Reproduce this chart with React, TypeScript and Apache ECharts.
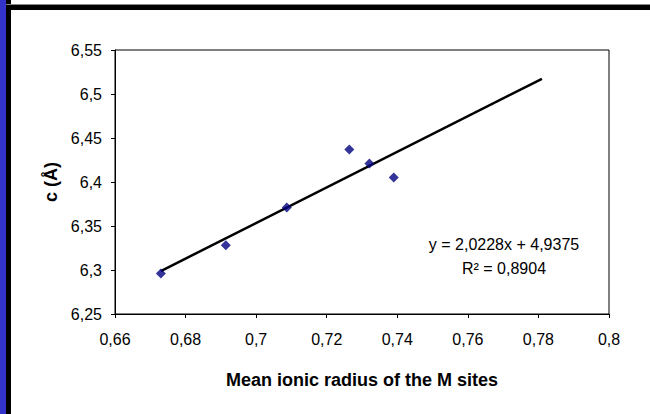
import React, { useEffect, useRef } from "react";
import * as echarts from "echarts";

const radius = [0.673, 0.6914, 0.7087, 0.7264, 0.7321, 0.739];
const cValues = [6.296, 6.328, 6.371, 6.437, 6.421, 6.405];
const trendX = [0.673, 0.781];
const trendY = [6.2988, 6.5173];
const equationText = "y = 2,0228x + 4,9375";
const r2Text = "R² = 0,8904";
const xTitle = "Mean ionic radius of the M sites";
const yTitle = "c (Å)";

const FONT = "'Liberation Sans', Arial, sans-serif";

function fmt(v: number): string {
  return String(parseFloat(v.toFixed(4))).replace(".", ",");
}

export default function App() {
  const ref = useRef<HTMLDivElement>(null);
  useEffect(() => {
    if (!ref.current) return;
    const chart = echarts.init(ref.current, undefined, { renderer: "svg" });
    chart.setOption({
      animation: false,
      backgroundColor: "#ffffff",
      textStyle: { fontFamily: FONT },
      grid: {
        left: 115,
        top: 50,
        right: 41,
        bottom: 100,
        show: true,
        borderColor: "#000",
        borderWidth: 1,
        backgroundColor: "transparent",
      },
      xAxis: {
        type: "value",
        min: 0.66,
        max: 0.8,
        interval: 0.02,
        name: xTitle,
        nameLocation: "middle",
        nameGap: 57,
        nameTextStyle: { fontSize: 18, fontWeight: "bold", color: "#000", fontFamily: FONT },
        axisLine: { show: true, lineStyle: { color: "#000", width: 1 } },
        axisTick: { show: true, inside: false, length: 4, lineStyle: { color: "#000" } },
        axisLabel: { formatter: fmt, fontSize: 16, color: "#000", margin: 17, fontFamily: FONT },
        splitLine: { show: false },
      },
      yAxis: {
        type: "value",
        min: 6.25,
        max: 6.55,
        interval: 0.05,
        name: yTitle,
        nameLocation: "middle",
        nameGap: 54,
        nameRotate: 90,
        nameTextStyle: { fontSize: 18, fontWeight: "bold", color: "#000", fontFamily: FONT },
        axisLine: { show: true, lineStyle: { color: "#000", width: 1 } },
        axisTick: { show: true, inside: false, length: 4, lineStyle: { color: "#000" } },
        axisLabel: { formatter: fmt, fontSize: 16, color: "#000", margin: 13, fontFamily: FONT },
        splitLine: { show: false },
      },
      series: [
        {
          type: "line",
          data: trendX.map((x, i) => [x, trendY[i]]),
          symbol: "none",
          lineStyle: { color: "#000", width: 2.5 },
          z: 2,
        },
        {
          type: "scatter",
          data: radius.map((x, i) => [x, cValues[i]]),
          symbol: "diamond",
          symbolSize: 10,
          itemStyle: { color: "#000080" },
          z: 3,
        },
      ],
      graphic: [
        { type: "rect", shape: { x: 0, y: 0, width: 6, height: 414 }, style: { fill: "#3333cc" }, z: 10 },
        { type: "rect", shape: { x: 6, y: 0, width: 5, height: 414 }, style: { fill: "#000" }, z: 10 },
        { type: "rect", shape: { x: 6, y: 4, width: 644, height: 1 }, style: { fill: "#888" }, z: 10 },
        { type: "rect", shape: { x: 6, y: 5, width: 644, height: 5 }, style: { fill: "#000" }, z: 10 },
        {
          type: "text",
          x: 504,
          y: 244,
          style: { text: equationText, fontSize: 16, fill: "#000", align: "center", verticalAlign: "middle", fontFamily: FONT },
          z: 10,
        },
        {
          type: "text",
          x: 504,
          y: 268,
          style: { text: r2Text, fontSize: 16, fill: "#000", align: "center", verticalAlign: "middle", fontFamily: FONT },
          z: 10,
        },
      ],
    });
    return () => chart.dispose();
  }, []);
  return (
    <div
      ref={ref}
      style={{ position: "fixed", left: 0, top: 0, width: 650, height: 414 }}
    />
  );
}
